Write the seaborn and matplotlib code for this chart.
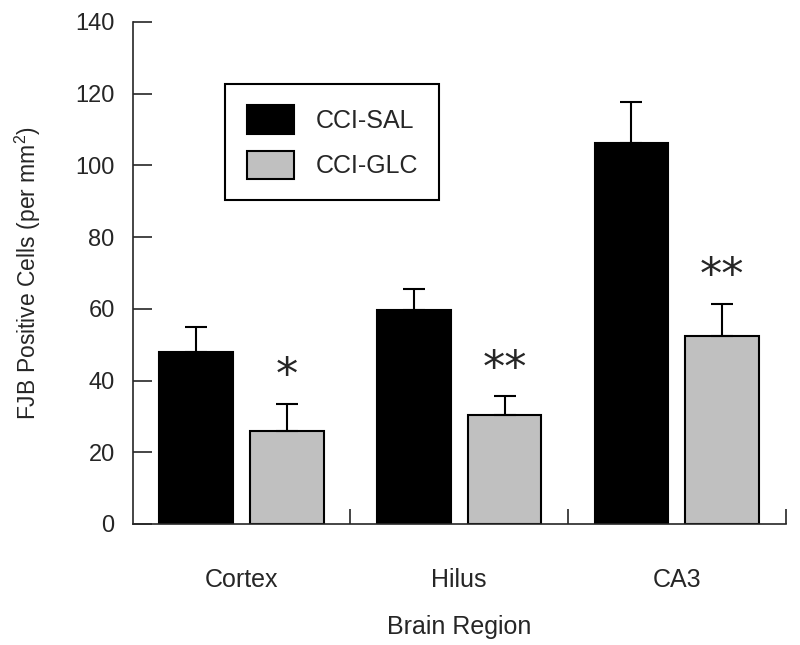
import numpy as np
import pandas as pd
import seaborn as sns
from matplotlib import pyplot as plt

regions = ["Cortex", "Hilus", "CA3"]
groups = ["CCI-SAL", "CCI-GLC"]
sal_mean = [48.0, 59.6, 106.2]
glc_mean = [26.0, 30.5, 52.3]
sal_err = [7.0, 5.8, 11.6]
glc_err = [7.6, 5.2, 9.1]
stars = ["*", "**", "**"]

df = pd.DataFrame({
    "region": regions * 2,
    "group": [groups[0]] * 3 + [groups[1]] * 3,
    "mean": sal_mean + glc_mean,
})

sns.set_style("ticks")
plt.rcParams["font.family"] = ["Liberation Sans", "DejaVu Sans"]
plt.rcParams["mathtext.fontset"] = "custom"
plt.rcParams["mathtext.rm"] = "Liberation Sans"
plt.rcParams["mathtext.default"] = "regular"

fig = plt.figure(figsize=(8, 6.45), dpi=100)
ax = fig.add_axes([0.166, 0.1876, 0.816, 0.7784])

sns.barplot(data=df, x="region", y="mean", hue="group", order=regions, hue_order=groups,
            palette=["black", "#c0c0c0"], width=0.834, gap=0.187,
            edgecolor="black", linewidth=1.5, saturation=1, legend=False, ax=ax)

# upper-only SE bars
for cont, errs in zip(ax.containers, [sal_err, glc_err]):
    xs = [b.get_x() + b.get_width() / 2 for b in cont]
    hs = [b.get_height() for b in cont]
    ax.errorbar(xs, hs, yerr=[np.zeros(3), errs], fmt="none", ecolor="black",
                elinewidth=1.5, capsize=8, capthick=1.5, zorder=1)

for b, e, s in zip(ax.containers[1], glc_err, stars):
    ax.text(b.get_x() + b.get_width() / 2, b.get_height() + e + 7.5, s,
            ha="center", va="center", fontsize=32, family="DejaVu Sans")

ax.set_xlim(-0.5, 2.5)
ax.set_ylim(0, 140)
ax.set_yticks(range(0, 141, 20))
ax.tick_params(axis="y", direction="in", length=14, width=1.2, labelsize=17, pad=13)
ax.set_xticks([0, 1, 2], regions)
ax.tick_params(axis="x", which="major", length=0, labelsize=18, pad=31.5)
ax.set_xticks([0.5, 1.5, 2.5], minor=True)
ax.tick_params(axis="x", which="minor", direction="in", length=11, width=1.2)
sns.despine(ax=ax)
for sp in ["left", "bottom"]:
    ax.spines[sp].set_linewidth(1.2)

ax.set_xlabel("Brain Region", fontsize=18, labelpad=17)
ax.set_ylabel("FJB Positive Cells (per mm$^2$)", fontsize=16.5, labelpad=23)

handles = [ax.containers[0][0], ax.containers[1][0]]
leg = ax.legend(handles, groups, loc="upper left", bbox_to_anchor=(0.142, 0.876),
                borderaxespad=0, fontsize=18, fancybox=False, edgecolor="black",
                framealpha=1, handlelength=1.9, handleheight=1.36, labelspacing=0.68,
                handletextpad=0.85, borderpad=0.85)
leg.get_frame().set_linewidth(1.5)

plt.savefig("out.png", dpi=100)
